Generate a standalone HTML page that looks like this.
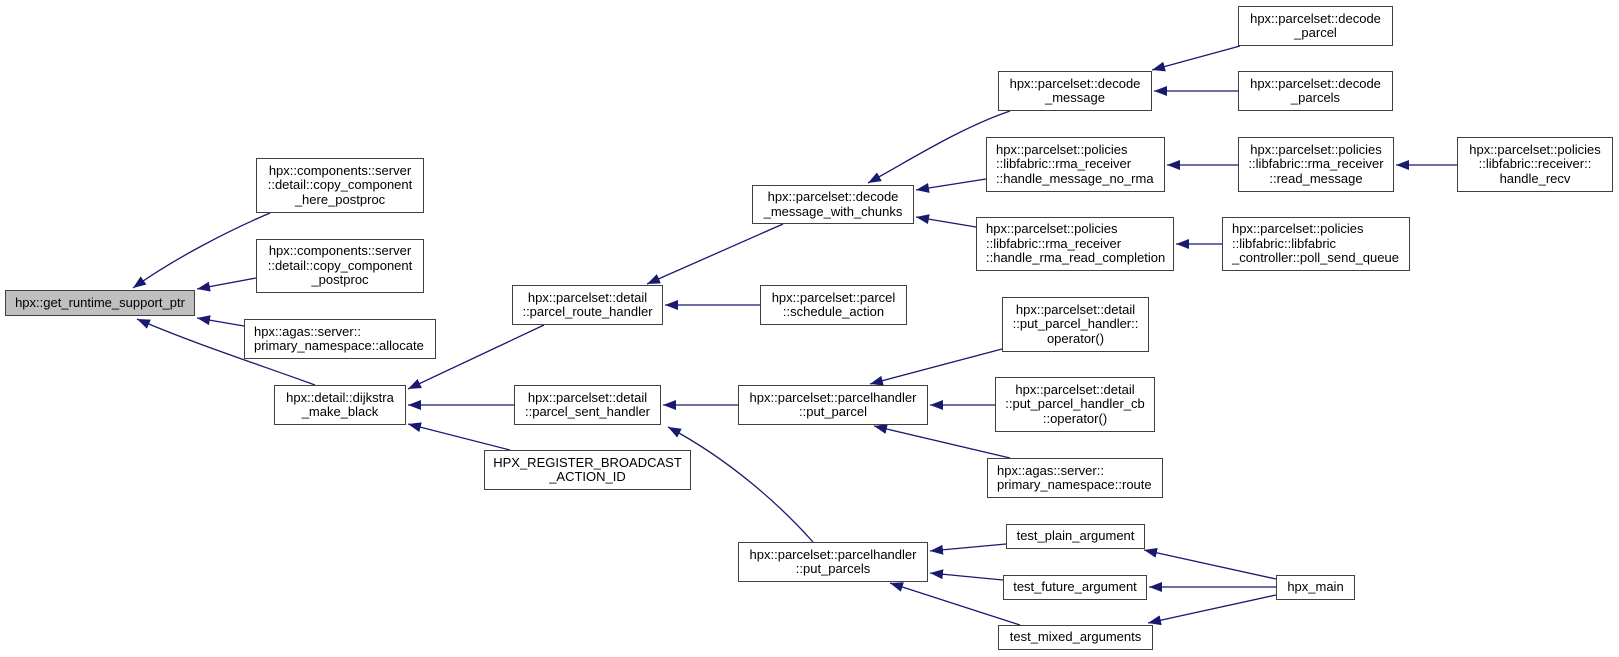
<!DOCTYPE html>
<html><head><meta charset="utf-8"><style>
body{margin:0;width:1619px;height:657px;background:#fff;position:relative;overflow:hidden;font-family:"Liberation Sans",Arial,sans-serif;}
.n{position:absolute;box-sizing:border-box;border:1px solid #404040;background:#fff;font-size:13px;line-height:14.5px;color:#000;text-align:center;display:flex;flex-direction:column;justify-content:center;white-space:nowrap;}
.l{text-align:left;padding-left:9px;}
svg{position:absolute;left:0;top:0;}
</style></head><body>
<svg width="1619" height="657">
<defs><marker id="a" markerUnits="userSpaceOnUse" markerWidth="14" markerHeight="10" refX="13" refY="5" orient="auto"><path d="M0,0 L13,5 L0,10 z" fill="#191970"/></marker></defs>
<g fill="none" stroke="#191970" stroke-width="1.3" marker-end="url(#a)">
<path d="M270,213 C230,230 175,258 133,288"/>
<path d="M256,278 L197,289"/>
<path d="M244,326 L197,318"/>
<path d="M315,385 C260,365 190,342 137,319"/>
<path d="M544,325 L408,389"/>
<path d="M514,405 L408,405"/>
<path d="M510,450 L408,424"/>
<path d="M783,224 L647,284"/>
<path d="M760,305 L665,305"/>
<path d="M738,405 L663,405"/>
<path d="M813,542 C780,505 730,460 668,427"/>
<path d="M1010,111 C960,128 910,160 868,183"/>
<path d="M986,179 L916,190"/>
<path d="M976,227 L916,217"/>
<path d="M1240,46 L1152,70"/>
<path d="M1238,91 L1154,91"/>
<path d="M1238,165 L1167,165"/>
<path d="M1222,244 L1176,244"/>
<path d="M1457,165 L1396,165"/>
<path d="M1002,349 L870,384"/>
<path d="M995,405 L930,405"/>
<path d="M1010,458 L874,426"/>
<path d="M1006,544 L930,551"/>
<path d="M1003,580 L930,573"/>
<path d="M1020,625 L890,583"/>
<path d="M1276,579 L1144,550"/>
<path d="M1276,587 L1149,587"/>
<path d="M1276,595 L1148,623"/>
</g></svg>
<div class="n" style="left:5px;top:290px;width:190px;height:26px;background:#bfbfbf;">hpx::get_runtime_support_ptr</div>
<div class="n" style="left:256px;top:158px;width:168px;height:55px;">hpx::components::server<br>::detail::copy_component<br>_here_postproc</div>
<div class="n" style="left:256px;top:239px;width:168px;height:54px;">hpx::components::server<br>::detail::copy_component<br>_postproc</div>
<div class="n l" style="left:244px;top:319px;width:192px;height:40px;">hpx::agas::server::<br>primary_namespace::allocate</div>
<div class="n" style="left:274px;top:385px;width:132px;height:40px;">hpx::detail::dijkstra<br>_make_black</div>
<div class="n" style="left:512px;top:285px;width:151px;height:40px;">hpx::parcelset::detail<br>::parcel_route_handler</div>
<div class="n" style="left:514px;top:385px;width:147px;height:40px;">hpx::parcelset::detail<br>::parcel_sent_handler</div>
<div class="n" style="left:484px;top:450px;width:207px;height:40px;">HPX_REGISTER_BROADCAST<br>_ACTION_ID</div>
<div class="n" style="left:752px;top:185px;width:162px;height:39px;">hpx::parcelset::decode<br>_message_with_chunks</div>
<div class="n" style="left:760px;top:285px;width:147px;height:40px;">hpx::parcelset::parcel<br>::schedule_action</div>
<div class="n" style="left:738px;top:385px;width:190px;height:40px;">hpx::parcelset::parcelhandler<br>::put_parcel</div>
<div class="n" style="left:738px;top:542px;width:190px;height:40px;">hpx::parcelset::parcelhandler<br>::put_parcels</div>
<div class="n" style="left:998px;top:71px;width:154px;height:40px;">hpx::parcelset::decode<br>_message</div>
<div class="n l" style="left:986px;top:137px;width:179px;height:55px;">hpx::parcelset::policies<br>::libfabric::rma_receiver<br>::handle_message_no_rma</div>
<div class="n l" style="left:976px;top:217px;width:198px;height:54px;">hpx::parcelset::policies<br>::libfabric::rma_receiver<br>::handle_rma_read_completion</div>
<div class="n" style="left:1002px;top:297px;width:147px;height:55px;">hpx::parcelset::detail<br>::put_parcel_handler::<br>operator()</div>
<div class="n" style="left:995px;top:377px;width:160px;height:55px;">hpx::parcelset::detail<br>::put_parcel_handler_cb<br>::operator()</div>
<div class="n l" style="left:987px;top:458px;width:176px;height:40px;">hpx::agas::server::<br>primary_namespace::route</div>
<div class="n" style="left:1006px;top:524px;width:139px;height:25px;">test_plain_argument</div>
<div class="n" style="left:1003px;top:575px;width:144px;height:25px;">test_future_argument</div>
<div class="n" style="left:998px;top:625px;width:155px;height:25px;">test_mixed_arguments</div>
<div class="n" style="left:1238px;top:6px;width:155px;height:40px;">hpx::parcelset::decode<br>_parcel</div>
<div class="n" style="left:1238px;top:71px;width:155px;height:40px;">hpx::parcelset::decode<br>_parcels</div>
<div class="n" style="left:1238px;top:137px;width:156px;height:55px;">hpx::parcelset::policies<br>::libfabric::rma_receiver<br>::read_message</div>
<div class="n l" style="left:1222px;top:217px;width:188px;height:54px;">hpx::parcelset::policies<br>::libfabric::libfabric<br>_controller::poll_send_queue</div>
<div class="n" style="left:1457px;top:137px;width:156px;height:55px;">hpx::parcelset::policies<br>::libfabric::receiver::<br>handle_recv</div>
<div class="n" style="left:1276px;top:575px;width:79px;height:25px;">hpx_main</div>
</body></html>
